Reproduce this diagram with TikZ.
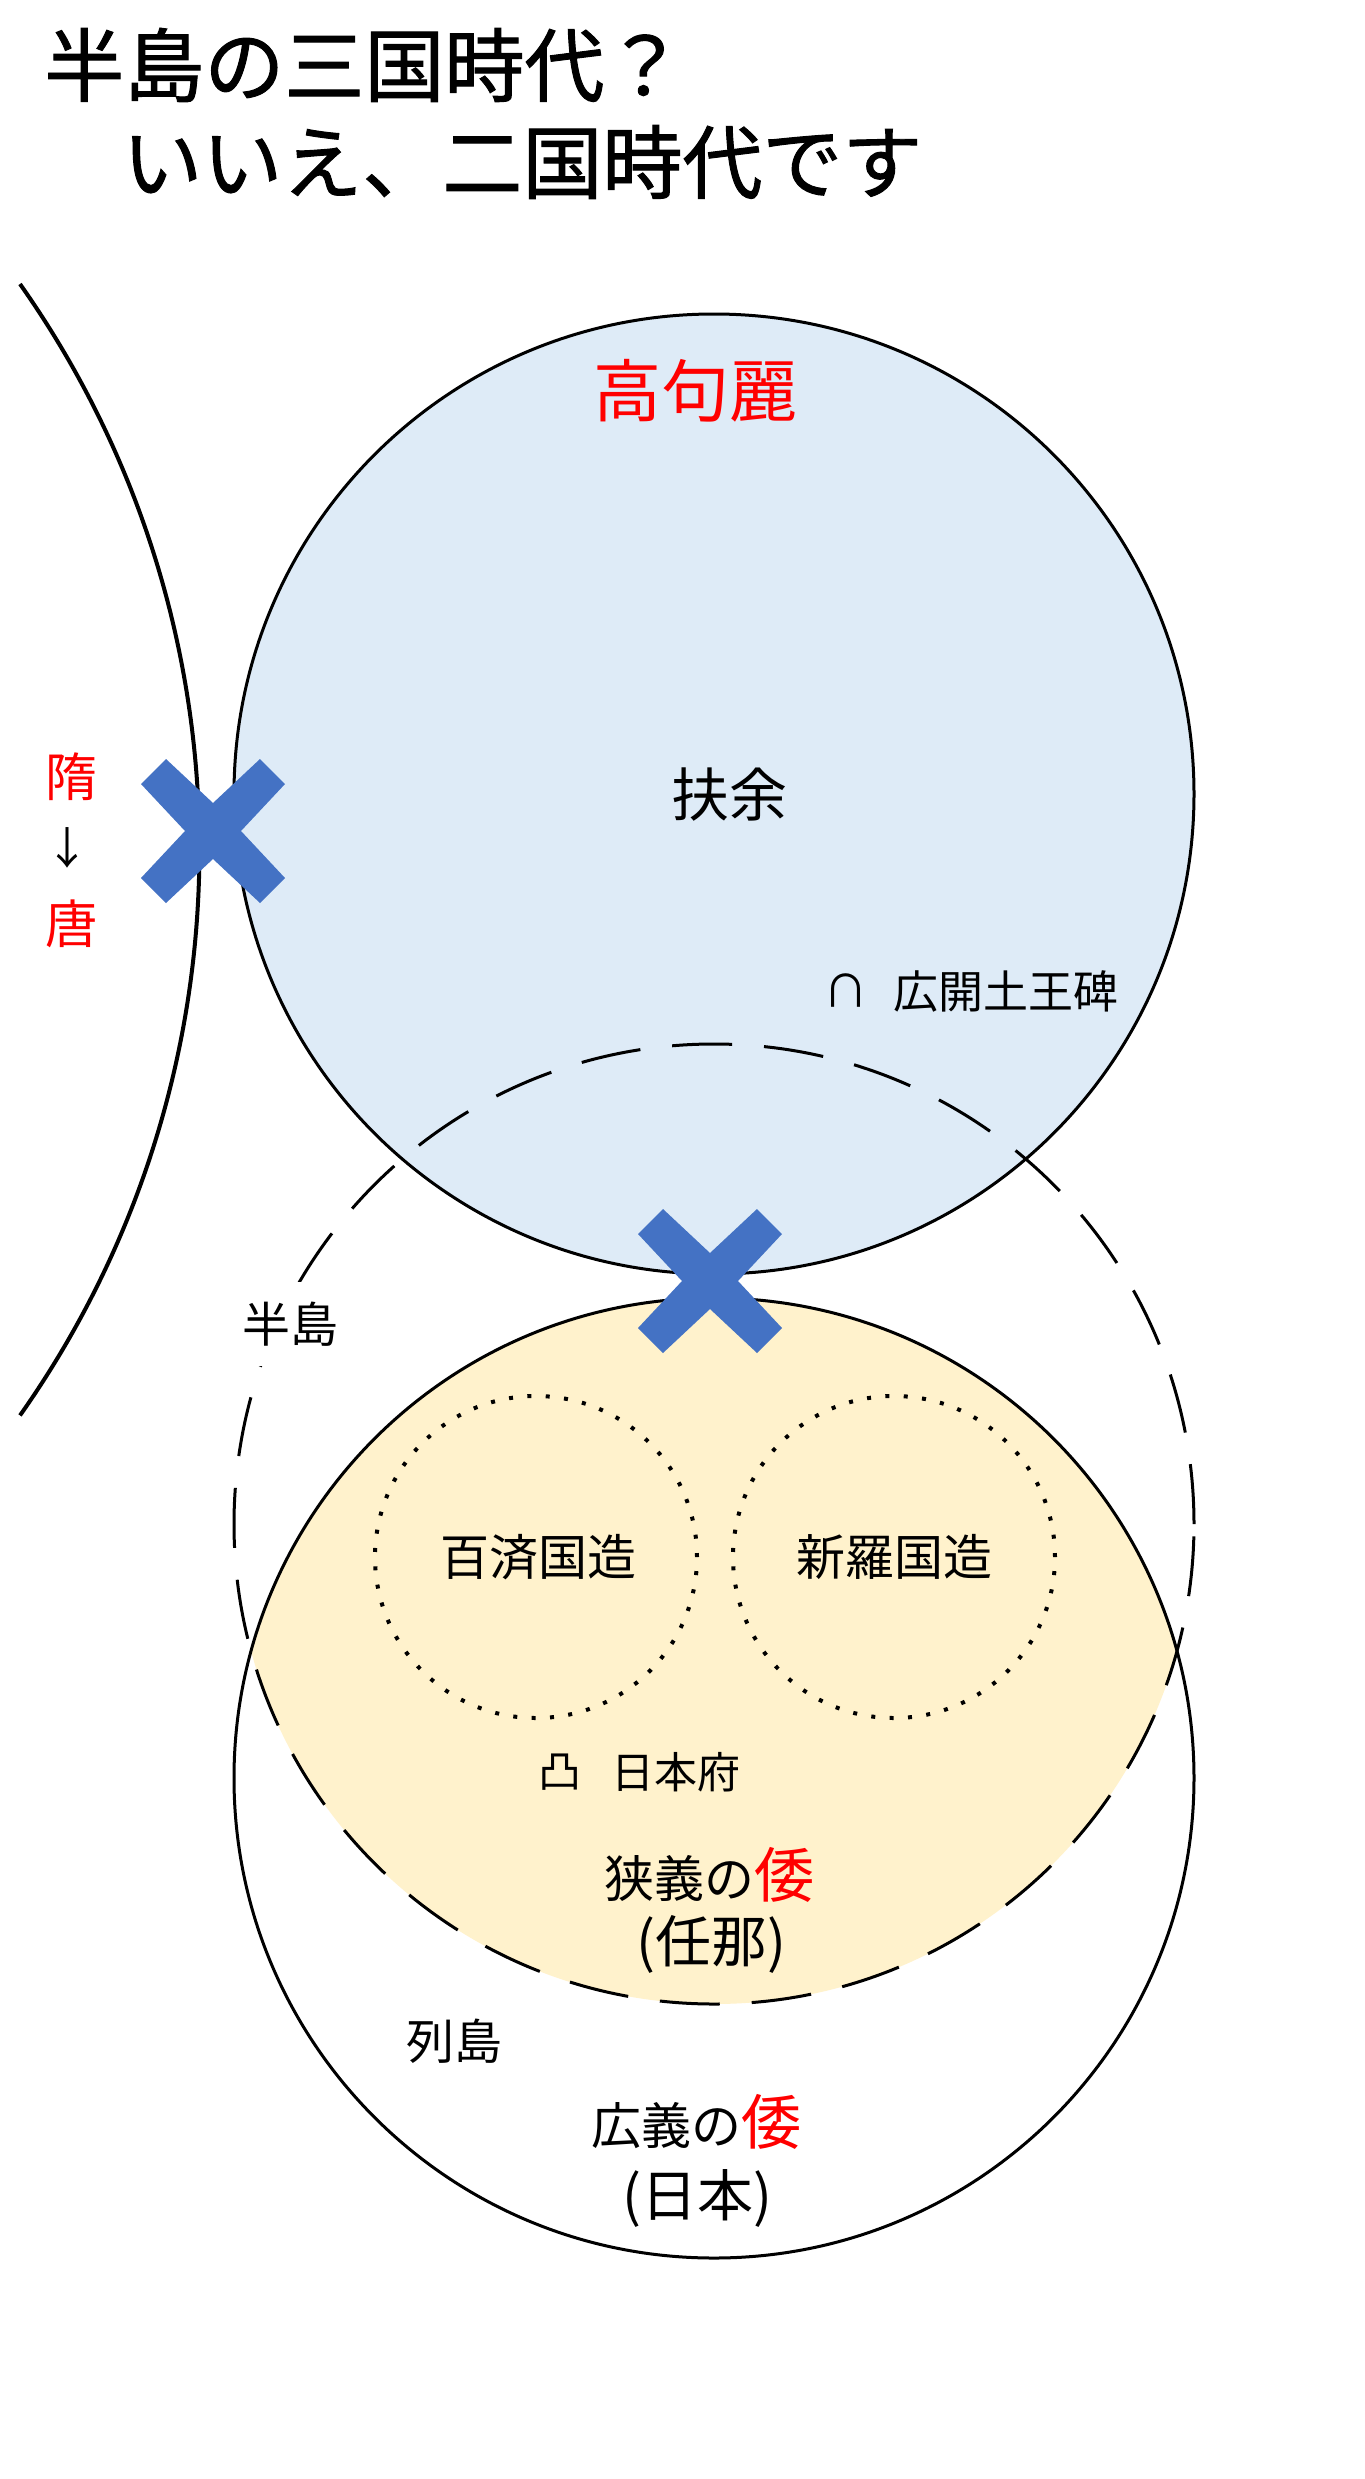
\documentclass[tikz,border=0pt]{standalone}
\usepackage{fontspec}
\newfontfamily\jp{Noto Sans CJK JP}
\newfontfamily\jptitle[FakeBold=1.2]{Noto Sans CJK JP}
\newcommand{\myfs}[1]{\fontsize{#1}{#1}\selectfont}
\definecolor{kblue}{HTML}{DEEBF7}
\definecolor{kyellow}{HTML}{FFF2CC}
\definecolor{xblue}{HTML}{4472C4}
\definecolor{kred}{HTML}{FF0000}
\tikzset{
  txt/.style={inner sep=0pt, font=\jp},
  realm/.style={line width=1.5pt, draw=black},
  dashrealm/.style={line width=1.5pt, draw=black, dash pattern=on 30pt off 16pt},
  dotrealm/.style={line width=2pt, draw=black, line cap=butt, dash pattern=on 2pt off 7.2pt},
  xmark/.pic={\fill[xblue] (0,-28) -- (47,-72) -- (72,-47) -- (28,0) -- (72,47) -- (47,72)
      -- (0,28) -- (-47,72) -- (-72,47) -- (-28,0) -- (-72,-47) -- (-47,-72) -- cycle;}
}
\begin{document}
\begin{tikzpicture}[x=0.5pt,y=-0.5pt]
\useasboundingbox (0,0) rectangle (1365,2479);
\fill[white] (0,0) rectangle (1365,2479);

\coordinate (cUp) at (714,794);
\coordinate (cLow) at (714,1778);
\coordinate (cDash) at (714,1524);
\coordinate (cPaek) at (536,1557);
\coordinate (cSil) at (894,1557);
\coordinate (arcTop) at (20,284);

% title
\node[txt, font=\jptitle\myfs{40pt}, anchor=west] (t1) at (44,65) {半島の三国時代？};
\node[txt, font=\jptitle\myfs{40pt}, anchor=west] (t2) at (122,162) {いいえ、二国時代です};

% left arc (Sui/Tang)
\draw[line width=2pt] (arcTop) arc[start angle=35.2, end angle=-35.2, radius=490.7pt];

% Goguryeo circle
\fill[kblue] (cUp) circle[radius=240pt];
\draw[realm] (cUp) circle[radius=240pt];

% narrow Wa (intersection)
\begin{scope}
  \clip (cLow) circle[radius=240pt];
  \fill[kyellow] (cDash) circle[radius=240pt];
\end{scope}
\draw[realm] (cLow) circle[radius=240pt];
\draw[dashrealm] (cDash) circle[radius=240pt];

% Paekche / Silla
\draw[dotrealm] (cPaek) circle[radius=80.5pt];
\draw[dotrealm] (cSil) circle[radius=80.5pt];

% crosses
\pic at (213,831) {xmark};
\pic at (710,1281) {xmark};

% labels
\node[txt, font=\jp\myfs{34pt}, text=kred] (kogu) at (695,391) {高句麗};
\node[txt, font=\jp\myfs{29pt}] (fuyo) at (729,795) {扶余};
\node[txt, font=\jp\myfs{22.5pt}] (cap) at (846,991) {∩};
\node[txt, font=\jp\myfs{22.5pt}] (stele) at (1006,991) {広開土王碑};
\node[txt, font=\jp\myfs{26pt}, text=kred] (sui) at (71,777) {隋};
\node[txt, font=\jp\myfs{22pt}] (arr) at (67,848) {↓};
\node[txt, font=\jp\myfs{26pt}, text=kred] (tang) at (71,924) {唐};
\node[txt, font=\jp\myfs{24pt}, fill=white, inner xsep=4pt, inner ysep=10pt] (hanto) at (290,1324) {半島};
\node[txt, font=\jp\myfs{24.5pt}] (paek) at (538,1557) {百済国造};
\node[txt, font=\jp\myfs{24.5pt}] (silla) at (894,1557) {新羅国造};
\node[txt, font=\jp\myfs{21.5pt}] (totsu) at (560,1772) {凸};
\node[txt, font=\jp\myfs{21.5pt}] (fu) at (676,1772) {日本府};
\node[txt, font=\jp\myfs{25pt}] (narrow) at (709,1875) {狭義の{\color{kred}\myfs{30pt}倭}};
\node[txt, font=\jp\myfs{28pt}] (mimana) at (711,1944) {(任那)};
\node[txt, font=\jp\myfs{24pt}] (retto) at (454,2041) {列島};
\node[txt, font=\jp\myfs{25pt}] (broad) at (696,2122) {広義の{\color{kred}\myfs{30pt}倭}};
\node[txt, font=\jp\myfs{28pt}] (nihon) at (697,2198) {(日本)};
\end{tikzpicture}
\end{document}
